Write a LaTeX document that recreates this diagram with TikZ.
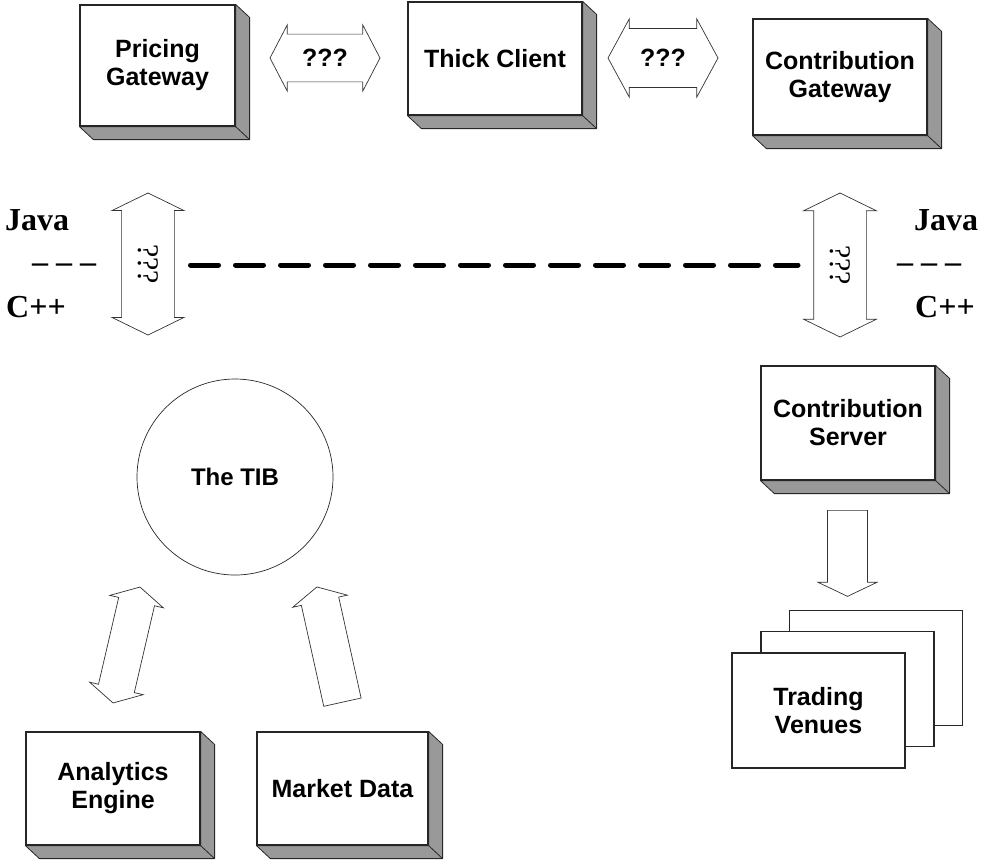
\documentclass[tikz,border=0pt]{standalone}
\usepackage{fontspec}
\setmainfont{Liberation Serif}
\setsansfont{Liberation Sans}
\usetikzlibrary{shapes.arrows}

\newcommand{\slabdepth}[1]{%
  \filldraw[draw=black!85, fill=black!40, line width=0.8pt, line join=round]
    (#1.north east) -- ++(14,13) -- ([shift={(14,13)}]#1.south east)
    -- ([shift={(14,13)}]#1.south west) -- (#1.south west) -- (#1.south east) -- cycle;
  \draw[black!85, line width=0.8pt] (#1.south east) -- ++(14,13);
}

\begin{document}
\begin{tikzpicture}[x=1pt, y=-1pt,
    slab/.style={draw=black!85, fill=white, line width=1.2pt, inner sep=0pt,
      font=\sffamily\bfseries\fontsize{25}{28}\selectfont, align=center},
    venue/.style={slab, minimum width=173pt, minimum height=115pt},
    link/.style={shape=double arrow, draw=black!80, fill=white, line width=0.7pt,
      inner xsep=0pt, double arrow tip angle=125,
      font=\sffamily\bfseries\fontsize{25}{28}\selectfont},
    feed/.style={shape=single arrow, draw=black!80, fill=white, line width=0.7pt,
      inner xsep=0pt, single arrow tip angle=125},
    lang/.style={inner sep=0pt, anchor=base west, font=\bfseries\fontsize{32}{32}\selectfont}]

    \useasboundingbox (0,0) rectangle (984,863);

    \node[slab, minimum width=155pt, minimum height=121pt] (pricing) at (157.5,65.5) {Pricing\\Gateway};
    \node[slab, minimum width=174pt, minimum height=113pt] (thick) at (495,58.5) {Thick Client};
    \node[slab, minimum width=174pt, minimum height=116pt] (gateway) at (840,77) {Contribution\\Gateway};
    \node[slab, minimum width=174pt, minimum height=114pt] (server) at (848,423) {Contribution\\Server};
    \node[slab, minimum width=174pt, minimum height=113pt] (engine) at (113,788.5) {Analytics\\Engine};
    \node[slab, minimum width=171pt, minimum height=113pt] (market) at (342.5,788.5) {Market Data};
    \foreach \b in {pricing,thick,gateway,server,engine,market}
        \slabdepth{\b};

    \node[draw=black!85, line width=0.7pt, circle, minimum size=196pt, inner sep=0pt,
        font=\sffamily\bfseries\fontsize{24}{28}\selectfont] (tib) at (235,477) {The TIB};

    \node[venue] (venueC) at (876,668) {};
    \node[venue] (venueB) at (847.5,689) {};
    \node[venue] (venueA) at (818.5,710.5) {Trading\\Venues};

    \node[link, minimum height=110pt, minimum width=66pt, inner ysep=9.5pt] (pricelink) at (325,58) {???};
    \node[link, minimum height=110pt, minimum width=78pt, inner ysep=13pt,
        double arrow tip angle=123] (gatelink) at (663,58) {???};

    \node[link, rotate=-90, minimum height=142pt, minimum width=72pt, inner ysep=9pt,
        double arrow tip angle=128, font=\rmfamily\fontsize{30}{30}\selectfont] (javalinkL) at (148,264) {???};
    \node[link, rotate=-90, minimum height=144pt, minimum width=73pt, inner ysep=8pt,
        double arrow tip angle=128, font=\rmfamily\fontsize{30}{30}\selectfont] (javalinkR) at (840,265) {???};

    \node[feed, rotate=-90, anchor=tail, minimum height=86pt, minimum width=59pt,
        inner ysep=14.5pt, single arrow tip angle=129] (venuefeed) at (847.5,510) {};
    \node[link, rotate=76.9, minimum height=119pt, minimum width=55pt, inner ysep=14pt,
        double arrow tip angle=123] (enginelink) at (126.5,645) {};
    \node[feed, rotate=102.5, anchor=tail, minimum height=118pt, minimum width=56pt,
        inner ysep=15pt] (marketfeed) at (342.5,702.5) {};

    \coordinate (sepL) at (190.5,265);
    \coordinate (sepR) at (798,265);
    \draw[line width=5pt, line cap=round, dash pattern=on 28pt off 17pt] (sepL) -- (sepR);

    \node[lang] (javaL) at (5,230) {Java};
    \node[lang] (splitL) at (32,272) {\textendash\ \textendash\ \textendash};
    \node[lang] (cppL) at (6,317) {C++};
    \node[lang] (javaR) at (914,230) {Java};
    \node[lang] (splitR) at (897,272) {\textendash\ \textendash\ \textendash};
    \node[lang] (cppR) at (915,317) {C++};
\end{tikzpicture}
\end{document}
